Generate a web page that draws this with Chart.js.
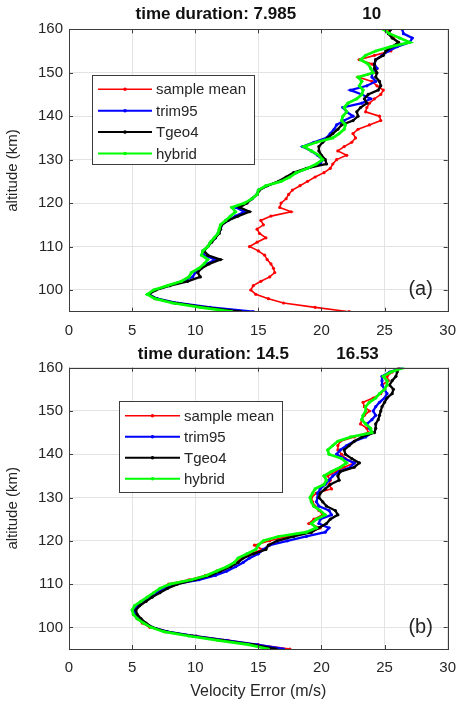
<!DOCTYPE html>
<html>
<head>
<meta charset="utf-8">
<script src="https://cdn.jsdelivr.net/npm/chart.js@4.4.0/dist/chart.umd.min.js"></script>
<style>
  html, body { margin: 0; padding: 0; background: #fff; }
  #wrap { position: relative; width: 466px; height: 702px; }
  canvas { position: absolute; left: 0; }
  #chartA { top: 0; }
  #chartB { top: 340px; }
</style>
</head>
<body>
<div id="wrap">
  <canvas id="chartA" width="466" height="340"></canvas>
  <canvas id="chartB" width="466" height="362"></canvas>
</div>
<script>
// altitude levels (km)
const altitudes = [95, 96, 97, 98, 99, 100, 101, 102, 103, 104,
  105, 106, 107, 108, 109, 110, 111, 112, 113, 114,
  115, 116, 117, 118, 119, 120, 121, 122, 123, 124,
  125, 126, 127, 128, 129, 130, 131, 132, 133, 134,
  135, 136, 137, 138, 139, 140, 141, 142, 143, 144,
  145, 146, 147, 148, 149, 150, 151, 152, 153, 154,
  155, 156, 157, 158, 159, 160];

const xTickValues = [0, 5, 10, 15, 20, 25, 30];
const yTickValues = [100, 110, 120, 130, 140, 150, 160];

const seriesNames = ['sample mean', 'trim95', 'Tgeo4', 'hybrid'];
const seriesColors = ['#ff0000', '#0000ff', '#000000', '#00ff00'];

// panel (a): velocity error (m/s)
const sampleMeanA = [22.2, 19.5, 17.0, 15.8, 14.8, 14.4, 14.6, 15.2, 15.9, 16.3,
  16.2, 16.0, 15.7, 15.5, 15.0, 14.3, 14.9, 15.6, 15.1, 14.9,
  15.4, 15.2, 16.0, 17.6, 16.7, 16.8, 17.2, 17.4, 17.7, 18.3,
  18.9, 19.5, 20.2, 20.7, 20.9, 21.2, 22.0, 21.3, 21.8, 22.4,
  22.7, 22.5, 22.9, 23.8, 24.7, 24.6, 23.5, 23.6, 23.8, 24.2,
  24.7, 24.9, 24.4, 24.0, 22.9, 24.3, 24.4, 24.0, 23.0, 24.2,
  25.5, 25.8, 26.1, 25.7, 25.4, 25.3];
const trim95A = [14.6, 11.2, 8.6, 7.0, 6.3, 6.8, 7.9, 9.0, 9.8, 10.0,
  10.4, 10.9, 11.6, 10.7, 10.6, 11.0, 11.2, 11.6, 11.8, 12.0,
  12.1, 12.6, 13.2, 13.9, 13.2, 14.0, 14.5, 14.9, 15.0, 15.7,
  16.7, 17.4, 18.0, 18.9, 19.9, 20.1, 19.7, 19.2, 18.5, 19.4,
  20.4, 20.7, 21.0, 21.2, 21.8, 22.5, 22.0, 21.7, 23.2, 23.9,
  23.2, 22.3, 23.6, 24.3, 24.0, 24.0, 24.4, 24.2, 24.3, 24.8,
  25.3, 26.0, 27.0, 27.2, 26.5, 26.4];
const tgeo4A = [13.6, 10.8, 8.4, 6.9, 6.3, 6.9, 8.0, 9.4, 10.4, 10.2,
  10.5, 11.1, 12.0, 11.0, 10.7, 11.0, 11.3, 11.6, 11.9, 12.0,
  12.1, 12.6, 13.4, 14.3, 13.5, 14.1, 14.5, 14.9, 15.1, 15.7,
  16.6, 17.2, 17.8, 18.8, 20.4, 20.3, 20.0, 19.8, 19.8, 20.1,
  20.5, 20.9, 21.3, 21.6, 22.5, 22.9, 22.8, 23.1, 23.6, 23.4,
  23.7, 24.5, 24.7, 24.6, 24.3, 24.4, 24.2, 24.2, 24.3, 24.9,
  25.1, 25.6, 26.1, 25.6, 25.3, 25.5];
const hybridA = [12.9, 10.4, 8.2, 6.8, 6.2, 6.7, 7.8, 8.9, 9.5, 9.7,
  10.3, 10.7, 11.0, 10.5, 10.6, 11.0, 11.2, 11.5, 11.8, 11.9,
  12.0, 12.4, 12.8, 13.2, 12.9, 13.9, 14.5, 14.9, 15.0, 15.6,
  16.8, 17.5, 18.0, 18.9, 19.6, 20.1, 19.8, 19.2, 18.6, 19.6,
  20.9, 21.4, 21.8, 21.9, 21.6, 21.7, 22.0, 21.8, 22.1, 22.8,
  23.2, 23.3, 23.0, 23.2, 22.9, 24.1, 23.9, 23.7, 23.1, 23.5,
  24.3, 25.5, 27.0, 26.2, 25.4, 24.9];

// panel (b): velocity error (m/s)
const sampleMeanB = [17.5, 15.0, 12.6, 10.1, 7.6, 6.4, 5.8, 5.4, 5.1, 5.2,
  5.4, 5.8, 6.3, 6.8, 7.3, 7.9, 9.5, 10.8, 11.7, 12.6,
  13.2, 13.7, 14.4, 15.3, 14.7, 15.9, 17.3, 19.2, 19.9, 19.0,
  19.4, 20.1, 19.8, 19.5, 19.3, 19.2, 19.6, 20.8, 20.6, 20.7,
  20.5, 21.2, 21.8, 22.6, 21.9, 21.6, 21.3, 21.3, 21.5, 22.6,
  23.7, 23.6, 23.1, 23.2, 23.4, 23.8, 23.4, 23.3, 24.1, 24.7,
  25.0, 24.8, 25.3, 25.2, 25.6, 26.2];
const trim95B = [17.0, 14.9, 12.5, 10.0, 7.8, 6.6, 6.0, 5.5, 5.2, 5.2,
  5.5, 6.0, 6.5, 7.0, 7.6, 8.4, 10.3, 11.6, 12.5, 13.2,
  13.8, 14.3, 15.0, 15.4, 15.9, 17.3, 18.8, 20.3, 20.6, 19.8,
  19.9, 20.8, 20.6, 19.8, 19.6, 19.7, 19.7, 19.9, 20.3, 20.6,
  20.9, 21.4, 22.3, 22.6, 21.8, 21.2, 21.5, 22.0, 22.6, 23.5,
  24.0, 23.8, 23.6, 24.0, 24.3, 24.1, 24.3, 24.6, 25.0, 25.2,
  25.0, 24.8, 24.8, 24.8, 25.4, 26.4];
const tgeo4B = [16.4, 14.6, 12.2, 9.8, 7.7, 6.6, 6.1, 5.7, 5.4, 5.3,
  5.6, 6.1, 6.6, 7.2, 7.8, 8.6, 10.0, 11.2, 12.0, 12.8,
  13.4, 13.8, 14.6, 15.6, 15.8, 16.5, 17.8, 19.2, 19.8, 20.4,
  20.7, 21.3, 21.1, 20.4, 20.1, 19.8, 19.9, 20.3, 20.7, 21.4,
  21.3, 21.5, 22.6, 23.0, 22.4, 21.9, 21.8, 22.2, 22.6, 23.2,
  24.2, 24.3, 24.3, 24.5, 24.6, 24.7, 24.8, 25.0, 25.2, 25.6,
  25.7, 25.4, 25.6, 25.9, 26.0, 26.1];
const hybridB = [15.8, 14.2, 11.8, 9.5, 7.5, 6.5, 5.9, 5.4, 5.1, 5.0,
  5.2, 5.7, 6.2, 6.7, 7.2, 8.0, 9.7, 10.9, 11.7, 12.5,
  13.1, 13.4, 14.1, 14.8, 15.0, 15.4, 16.6, 18.8, 19.6, 19.2,
  19.6, 20.3, 19.9, 19.4, 19.2, 19.1, 19.3, 19.5, 20.2, 20.4,
  20.2, 20.8, 21.5, 22.0, 21.6, 20.6, 20.5, 20.9, 21.3, 22.3,
  24.0, 23.9, 23.5, 23.2, 23.3, 23.5, 23.5, 23.8, 24.3, 24.6,
  25.0, 25.2, 25.2, 24.9, 25.5, 26.5];

const titleA = 'time duration: 7.985              10';
const titleB = 'time duration: 14.5          16.53';

const FONT = '"Liberation Sans", Arial, Helvetica, sans-serif';
const TEXT = '#262626';

function toPoints(vals) {
  return altitudes.map((a, i) => ({ x: vals[i], y: a }));
}

// box round the axes with inward ticks, like matlab
const axesBox = {
  id: 'axesBox',
  afterDatasetsDraw(chart) {
    const { ctx, chartArea: a, scales: { x, y } } = chart;
    ctx.save();
    ctx.strokeStyle = '#3c3c3c';
    ctx.lineWidth = 1;
    ctx.beginPath();
    xTickValues.forEach(v => {
      const px = Math.round(x.getPixelForValue(v)) + 0.5;
      ctx.moveTo(px, a.bottom); ctx.lineTo(px, a.bottom - 4);
      ctx.moveTo(px, a.top); ctx.lineTo(px, a.top + 4);
    });
    yTickValues.forEach(v => {
      const py = Math.round(y.getPixelForValue(v)) + 0.5;
      ctx.moveTo(a.left, py); ctx.lineTo(a.left + 4, py);
      ctx.moveTo(a.right, py); ctx.lineTo(a.right - 4, py);
    });
    ctx.stroke();
    ctx.strokeRect(Math.round(a.left) + 0.5, Math.round(a.top) + 0.5,
      Math.round(a.right - a.left), Math.round(a.bottom - a.top));
    ctx.restore();
  }
};

// legend box inside the plot
const boxLegend = {
  id: 'boxLegend',
  afterDraw(chart, args, opts) {
    const { ctx, chartArea: a } = chart;
    const x0 = a.left + opts.dx, y0 = a.top + opts.dy;
    ctx.save();
    ctx.fillStyle = '#fff';
    ctx.fillRect(x0, y0, opts.w, opts.h);
    ctx.strokeStyle = '#3c3c3c';
    ctx.lineWidth = 1;
    ctx.strokeRect(Math.round(x0) + 0.5, Math.round(y0) + 0.5, opts.w, opts.h);
    ctx.font = '15px ' + FONT;
    ctx.textBaseline = 'middle';
    chart.data.datasets.forEach((ds, i) => {
      const yy = y0 + opts.first + i * opts.rowH;
      const lx = x0 + 6;
      ctx.strokeStyle = ds.borderColor;
      ctx.lineWidth = Math.min(ds.borderWidth, 2);
      ctx.beginPath();
      ctx.moveTo(lx, yy); ctx.lineTo(lx + opts.lineW, yy);
      ctx.stroke();
      ctx.fillStyle = ds.borderColor;
      ctx.beginPath();
      ctx.arc(lx + opts.lineW / 2, yy, 1.8, 0, Math.PI * 2);
      ctx.fill();
      ctx.fillStyle = TEXT;
      ctx.fillText(ds.label, lx + opts.lineW + 4, yy + 1);
    });
    ctx.restore();
  }
};

const panelLabel = {
  id: 'panelLabel',
  afterDraw(chart, args, opts) {
    const { ctx, chartArea: a } = chart;
    ctx.save();
    ctx.font = '20px ' + FONT;
    ctx.fillStyle = TEXT;
    ctx.textAlign = 'center';
    ctx.textBaseline = 'middle';
    ctx.fillText(opts.text, a.right - 27, a.bottom - 22);
    ctx.restore();
  }
};

function makeChart(id, series, cfg) {
  const widths = [1.6, 2.3, 2.3, 2.7];
  const datasets = series.map((vals, i) => ({
    label: seriesNames[i],
    data: toPoints(vals),
    showLine: true,
    borderColor: seriesColors[i],
    backgroundColor: seriesColors[i],
    borderWidth: widths[i],
    pointRadius: 1.6,
    pointBorderWidth: 0,
    pointBackgroundColor: seriesColors[i],
    order: 4 - i
  }));

  return new Chart(document.getElementById(id), {
    type: 'scatter',
    data: { datasets: datasets },
    options: {
      responsive: false,
      animation: false,
      devicePixelRatio: 1,
      layout: { padding: { left: 0, right: 10, top: 0, bottom: 0 } },
      scales: {
        x: {
          type: 'linear',
          min: 0,
          max: 30,
          afterBuildTicks: s => { s.ticks = xTickValues.map(v => ({ value: v })); },
          afterFit: s => { s.height = cfg.xHeight; },
          grid: { color: '#e3e3e3', drawTicks: false },
          border: { display: false },
          ticks: { padding: 10, color: TEXT, font: { family: FONT, size: 15 } },
          title: {
            display: !!cfg.xTitle,
            text: cfg.xTitle || '',
            color: TEXT,
            font: { family: FONT, size: 16 },
            padding: { top: 0, bottom: 0.5 }
          }
        },
        y: {
          type: 'linear',
          min: 95,
          max: 160,
          afterBuildTicks: s => { s.ticks = yTickValues.map(v => ({ value: v })); },
          afterFit: s => { s.width = 69; },
          grid: { color: '#e3e3e3', drawTicks: false },
          border: { display: false },
          ticks: { padding: 6, color: TEXT, font: { family: FONT, size: 15 } },
          title: {
            display: true,
            text: 'altitude (km)',
            color: TEXT,
            font: { family: FONT, size: 15 },
            padding: { top: 4, bottom: 0 }
          }
        }
      },
      plugins: {
        legend: { display: false },
        tooltip: { enabled: false },
        title: {
          display: true,
          text: cfg.title,
          fullSize: false,
          color: '#111',
          font: { family: FONT, size: 17, weight: 'bold' },
          padding: cfg.titlePad
        },
        boxLegend: cfg.legend,
        panelLabel: { text: cfg.label }
      }
    },
    plugins: [axesBox, boxLegend, panelLabel]
  });
}

makeChart('chartA', [sampleMeanA, trim95A, tgeo4A, hybridA], {
  title: titleA,
  titlePad: { top: 4.5, bottom: 4.4 },
  xHeight: 28.3,
  legend: { dx: 23, dy: 46, w: 162, h: 89, first: 14, rowH: 21.4, lineW: 54 },
  label: '(a)'
});

makeChart('chartB', [sampleMeanB, trim95B, tgeo4B, hybridB], {
  title: titleB,
  titlePad: { top: 4, bottom: 3.3 },
  xHeight: 53,
  xTitle: 'Velocity Error (m/s)',
  legend: { dx: 50, dy: 33, w: 163, h: 91, first: 15, rowH: 21, lineW: 55 },
  label: '(b)'
});
</script>
</body>
</html>
